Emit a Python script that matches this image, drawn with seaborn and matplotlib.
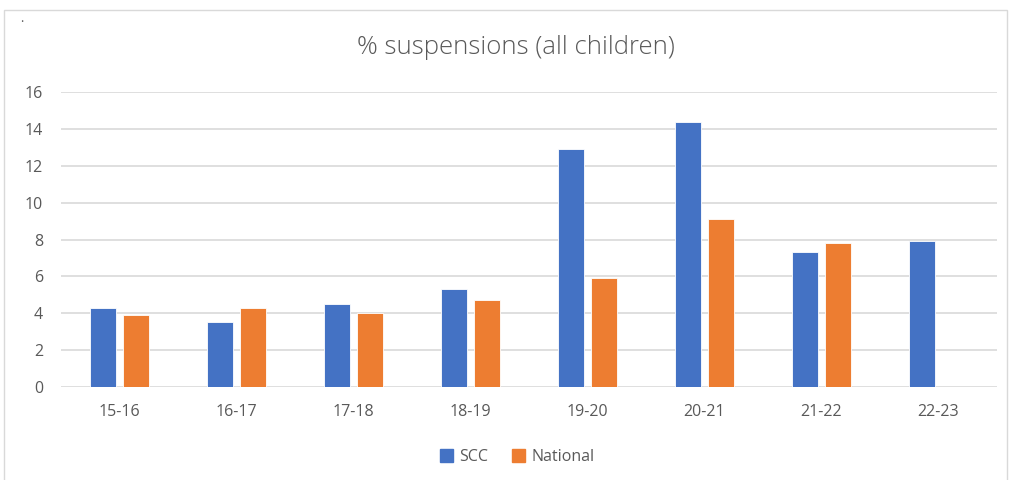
import pandas as pd
import numpy as np
import matplotlib.pyplot as plt
import matplotlib.patches as mpatches
import seaborn as sns

# chart values
years = ['15-16', '16-17', '17-18', '18-19', '19-20', '20-21', '21-22', '22-23']
scc = [4.3, 3.5, 4.5, 5.3, 12.9, 14.4, 7.3, 7.9]
national = [3.9, 4.3, 4.0, 4.7, 5.9, 9.1, 7.8, np.nan]

df = pd.DataFrame({
    'year': years * 2,
    'value': scc + national,
    'series': ['SCC'] * len(years) + ['National'] * len(years),
})

sns.set_style("white")
plt.rcParams['font.family'] = ['Open Sans', 'DejaVu Sans']

grey = '#595959'
grid = '#D9D9D9'
colors = {'SCC': '#4472C4', 'National': '#ED7D31'}

fig = plt.figure(figsize=(10.11, 4.8), dpi=100)
W, H = 1011, 480
ax = fig.add_axes([61 / W, 1 - 387 / H, (997 - 61) / W, (387 - 92) / H])

sns.barplot(data=df, x='year', y='value', hue='series', palette=colors,
            saturation=1, width=0.57, gap=0.21, ax=ax, legend=False,
            edgecolor='white', linewidth=0.6)

ax.set_ylim(0, 16)
ax.set_yticks(range(0, 17, 2))
ax.set_xlim(-0.5, len(years) - 0.5)
ax.yaxis.grid(True, color=grid, linewidth=1.2)
ax.set_axisbelow(True)
for s in ax.spines.values():
    s.set_visible(False)
ax.tick_params(axis='both', length=0, colors=grey, labelsize=11.5)
ax.tick_params(axis='y', pad=13)
ax.tick_params(axis='x', pad=12)
ax.set_xlabel('')
ax.set_ylabel('')

fig.text(0.5 * (343 + 688) / W, 1 - 47 / H, '% suspensions (all children)',
         ha='center', va='center', fontsize=18.5, fontweight='light', color=grey)
fig.text(20 / W, 1 - 22 / H, '.', fontsize=9, color=grey)

handles = [mpatches.Patch(color=colors[k], label=k) for k in ['SCC', 'National']]
fig.legend(handles=handles, loc='center', bbox_to_anchor=(517 / W, 1 - 457 / H),
           ncol=2, frameon=False, fontsize=11.5, handlelength=0.8, handleheight=0.8,
           handletextpad=0.4, columnspacing=1.5, labelcolor=grey)

# thin chart border
fig.patches.append(mpatches.Rectangle((4 / W, -0.01), (1007 - 4) / W, 1 - 10 / H + 0.01,
                                      transform=fig.transFigure, fill=False,
                                      edgecolor=grid, linewidth=1))

fig.savefig('out.png', dpi=100)
